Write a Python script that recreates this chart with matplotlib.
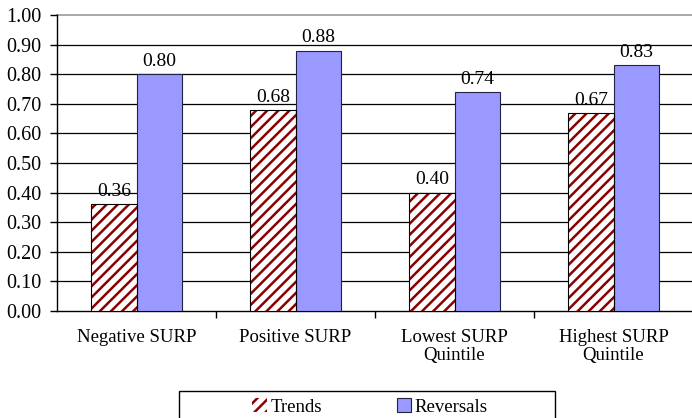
import matplotlib
matplotlib.use("Agg")
import matplotlib.pyplot as plt
import numpy as np
from matplotlib.patches import Rectangle

categories = ["Negative SURP", "Positive SURP", "Lowest SURP\nQuintile", "Highest SURP\nQuintile"]
trends = [0.36, 0.68, 0.40, 0.67]
reversals = [0.80, 0.88, 0.74, 0.83]
yticks = [0.0, 0.1, 0.2, 0.3, 0.4, 0.5, 0.6, 0.7, 0.8, 0.9, 1.0]

plt.rcParams['font.family'] = ['Liberation Serif', 'DejaVu Serif']
plt.rcParams['hatch.linewidth'] = 1.8

fig = plt.figure(figsize=(6.92, 4.18), dpi=100)
ax = fig.add_axes([57/692, 1-311/418, 636/692, (311-15)/418])

x = np.arange(len(categories))
w = 0.285
b1 = ax.bar(x - w/2, trends, w, facecolor='white', edgecolor='#8B0000', hatch='///',
            linewidth=0, label='Trends', zorder=3)
ax.bar(x - w/2, trends, w, facecolor='none', edgecolor='black', linewidth=0.8, zorder=4)
b2 = ax.bar(x + w/2, reversals, w, facecolor='#9999FF', edgecolor='#222244',
            linewidth=0.8, label='Reversals', zorder=3)

for xi, v in zip(x - w/2, trends):
    ax.annotate(f"{v:.2f}", (xi, v), xytext=(0, 3), textcoords='offset points',
                ha='center', va='bottom', fontsize=14)
for xi, v in zip(x + w/2, reversals):
    ax.annotate(f"{v:.2f}", (xi, v), xytext=(0, 3), textcoords='offset points',
                ha='center', va='bottom', fontsize=14)

ax.set_xlim(-0.5, len(categories) - 0.5)
ax.set_ylim(0, 1.0)
ax.set_yticks(yticks)
ax.set_yticklabels([f"{t:.2f}" for t in yticks], fontsize=14.5)
for t in yticks[1:-1]:
    ax.axhline(t, color='black', linewidth=0.9, zorder=1)
ax.axhline(1.0, color='#999999', linewidth=1.2, zorder=1, clip_on=False)

ax.set_xticks(x)
ax.set_xticklabels(categories, fontsize=13.5, linespacing=1.1)
ax.set_xticks(np.arange(0.5, len(categories) - 0.5, 1.0), minor=True)
ax.tick_params(axis='x', which='major', length=0, pad=13)
ax.tick_params(axis='x', which='minor', length=5, direction='out', width=1)
ax.tick_params(axis='y', length=5, direction='out', width=1, pad=6)

for s in ['top', 'right']:
    ax.spines[s].set_visible(False)
ax.spines['left'].set_linewidth(1)
ax.spines['bottom'].set_linewidth(1)

# legend frame (extends past bottom edge)
fig.patches.append(Rectangle((179/692, -0.05), (555-179)/692, 0.05 + (418-391)/418,
                             transform=fig.transFigure, facecolor='white',
                             edgecolor='black', linewidth=1))
fig.legend(handles=[b1, b2], labels=['Trends', 'Reversals'], loc='center',
           bbox_to_anchor=(370/692, 1-407/418), ncol=2, frameon=False,
           fontsize=13.5, handlelength=0.75, handleheight=0.75, handletextpad=0.2,
           columnspacing=4.0, borderpad=0)

fig.savefig("out.png", dpi=100)
